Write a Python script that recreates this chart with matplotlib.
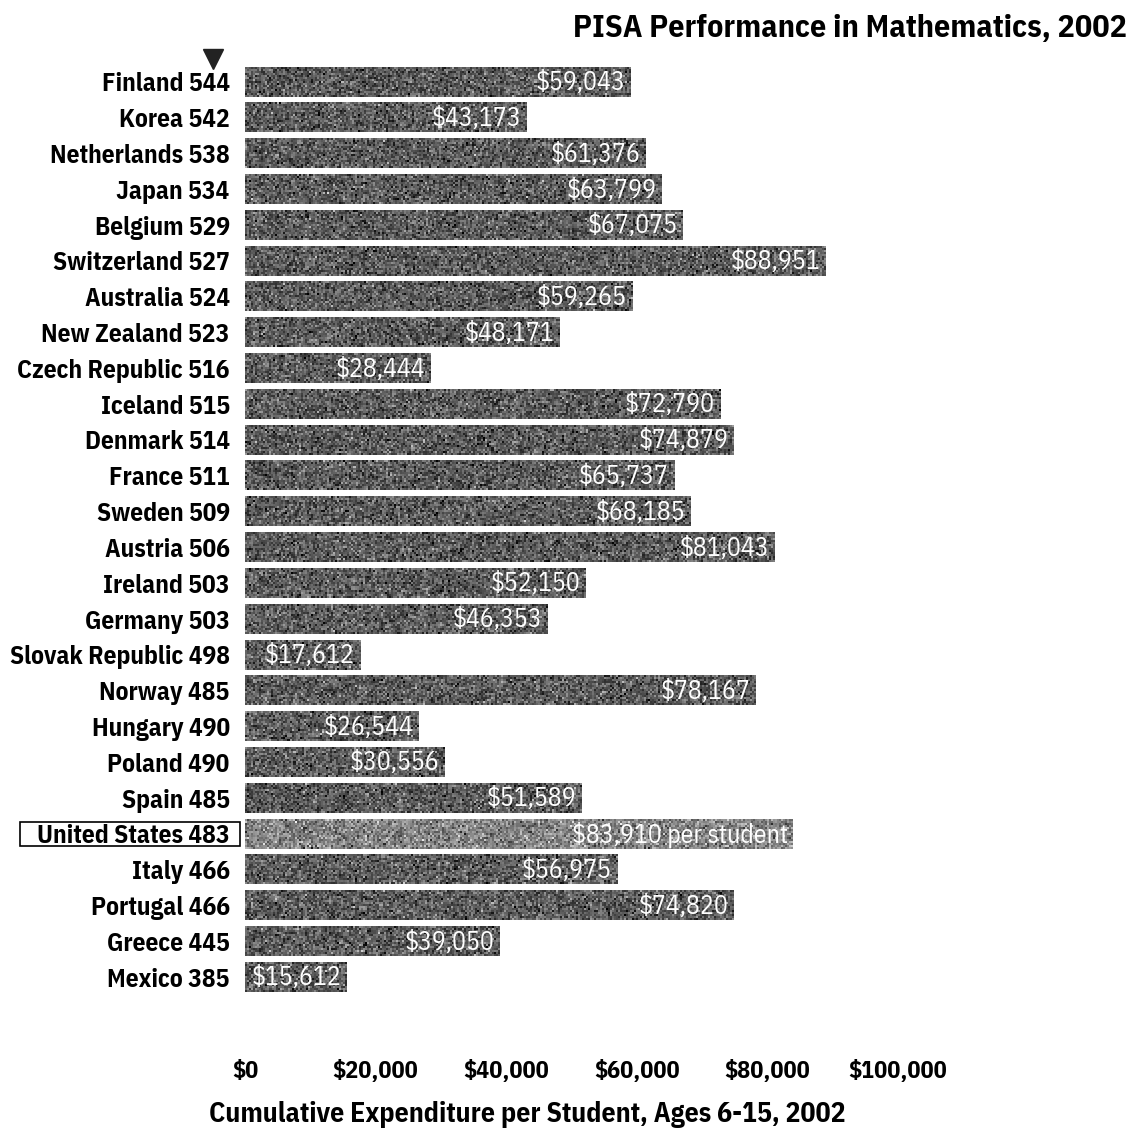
import matplotlib
matplotlib.use("Agg")
import numpy as np
import matplotlib.pyplot as plt
from matplotlib.patches import Rectangle
from matplotlib.transforms import blended_transform_factory

plt.rcParams['font.family'] = ['Liberation Sans Narrow', 'IBM Plex Sans Condensed', 'DejaVu Sans']

countries = ["Finland", "Korea", "Netherlands", "Japan", "Belgium", "Switzerland",
             "Australia", "New Zealand", "Czech Republic", "Iceland", "Denmark",
             "France", "Sweden", "Austria", "Ireland", "Germany", "Slovak Republic",
             "Norway", "Hungary", "Poland", "Spain", "United States", "Italy",
             "Portugal", "Greece", "Mexico"]
pisa_scores = [544, 542, 538, 534, 529, 527, 524, 523, 516, 515, 514, 511, 509,
               506, 503, 503, 498, 485, 490, 490, 485, 483, 466, 466, 445, 385]
spending = [59043, 43173, 61376, 63799, 67075, 88951, 59265, 48171, 28444, 72790,
            74879, 65737, 68185, 81043, 52150, 46353, 17612, 78167, 26544, 30556,
            51589, 83910, 56975, 74820, 39050, 15612]
x_ticks = [0, 20000, 40000, 60000, 80000, 100000]
highlight = "United States"

W, H = 1134, 1136
fig = plt.figure(figsize=(W / 100, H / 100), dpi=100)
ax = fig.add_axes([245 / W, (H - 995) / H, 653 / W, 931 / H])

bar_h = 0.82
rows = list(range(len(countries)))
tones = [0.52 if c == highlight else 0.36 for c in countries]

# grainy photocopy fill for each bar
rng = np.random.default_rng(7)
for y, v, tone in zip(rows, spending, tones):
    ncols = max(int(v / 100000 * 653 / 2), 1)
    grain = np.clip(tone + rng.normal(0, 0.13, size=(15, ncols)), 0, 1)
    ax.imshow(grain, cmap="gray", vmin=0, vmax=1, aspect="auto",
              interpolation="nearest",
              extent=(0, v, y + bar_h / 2, y - bar_h / 2))

for y, (c, v) in enumerate(zip(countries, spending)):
    txt = f"${v:,}" + (" per student" if c == highlight else "")
    ax.text(v - 800, y + 0.02, txt, ha="right", va="center", color="white",
            fontsize=18.5)

ax.set_xlim(0, 100000)
ax.set_ylim(len(countries) - 0.5, -0.5)
ax.set_yticks(rows)
ax.set_yticklabels([f"{c} {s}" for c, s in zip(countries, pisa_scores)],
                   fontsize=18.3, fontweight="bold")
ax.set_xticks(x_ticks)
ax.set_xticklabels([f"${t:,}" for t in x_ticks], fontsize=17.5, fontweight="bold")
ax.tick_params(axis="y", length=0, pad=11)
ax.tick_params(axis="x", length=0, pad=47)
for s in ax.spines.values():
    s.set_visible(False)

# box around the highlighted country's label
us = countries.index(highlight)
tr = blended_transform_factory(fig.transFigure, ax.transData)
ax.add_patch(Rectangle((20 / W, us - 0.34), 220 / W, 0.68, transform=tr,
                       fill=False, edgecolor="black", linewidth=1.2, clip_on=False))

# pointer above the top-ranked country
ax.plot([213 / W], [-0.64], transform=tr, marker="v", markersize=15,
        color="#222222", clip_on=False)

fig.text(1127 / W, 1 - 28 / H, "PISA Performance in Mathematics, 2002",
         ha="right", va="center", fontsize=23, fontweight="bold")
fig.text(527 / W, 1 - 1115 / H, "Cumulative Expenditure per Student, Ages 6-15, 2002",
         ha="center", va="center", fontsize=20, fontweight="bold")

fig.savefig("out.png", dpi=100, facecolor="white")
